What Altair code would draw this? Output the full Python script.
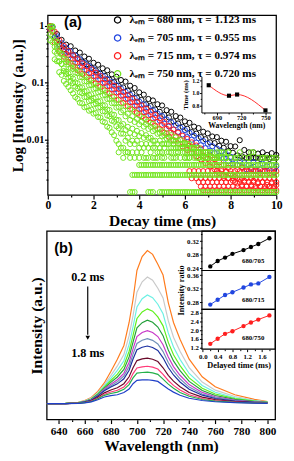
import altair as alt
import pandas as pd

W, H = 286, 453
SERIF = "Liberation Serif"
SANS = "Liberation Sans"

# ======================= (a) decay curves =======================
decay_time_a = [0.1, 0.3, 0.5, 0.7, 0.9, 1.1, 1.3, 1.5, 1.7, 1.9, 2.1, 2.3, 2.5, 2.7, 2.9,
                3.1, 3.3, 3.5, 3.7, 3.9, 4.1, 4.3, 4.5, 4.7, 4.9, 5.1, 5.3, 5.5, 5.7, 5.9,
                6.1, 6.3, 6.5, 6.7, 6.9, 7.1, 7.3, 7.5, 7.7, 7.9, 8.1, 8.3, 8.5, 8.7, 8.9,
                9.1, 9.3, 9.5, 9.7, 9.9]
decay_time_b = [0.2, 0.4, 0.6, 0.8, 1.0, 1.2, 1.4, 1.6, 1.8, 2.0, 2.2, 2.4, 2.6, 2.8, 3.0,
                3.2, 3.4, 3.6, 3.8, 4.0, 4.2, 4.4, 4.6, 4.8, 5.0, 5.2, 5.4, 5.6, 5.8, 6.0,
                6.2, 6.4, 6.6, 6.8, 7.0, 7.2, 7.4, 7.6, 7.8, 8.0, 8.2, 8.4, 8.6, 8.8, 9.0,
                9.2, 9.4, 9.6, 9.8, 10.0]

series_names = ["λₑₘ = 680 nm, τ = 1.123 ms", "λₑₘ = 705 nm, τ = 0.955 ms",
                "λₑₘ = 715 nm, τ = 0.974 ms", "λₑₘ = 750 nm, τ = 0.720 ms"]
series_colors = ["#000000", "#2146e0", "#ff1f1f", "#72e41e"]

black_upper = [0.97, 0.72, 0.57, 0.47, 0.44, 0.37, 0.34, 0.29, 0.265, 0.225, 0.208, 0.18, 0.166,
               0.141, 0.128, 0.112, 0.105, 0.089, 0.081, 0.068, 0.062, 0.052, 0.049, 0.042, 0.04,
               0.033, 0.031, 0.026, 0.0245, 0.021, 0.0198, 0.017, 0.016, 0.0138, 0.0129, 0.0114,
               0.0111, 0.0096, 0.0092, 0.0077, 0.0076, 0.0098, 0.0066, 0.006, 0.006, 0.0057,
               0.006, 0.0054, 0.0058, 0.0054]
black_lower = [0.98, 0.65, 0.48, 0.39, 0.35, 0.305, 0.272, 0.237, 0.212, 0.183, 0.166, 0.145,
               0.133, 0.114, 0.103, 0.089, 0.083, 0.073, 0.065, 0.055, 0.05, 0.042, 0.039, 0.034,
               0.031, 0.0272, 0.0246, 0.021, 0.0193, 0.0168, 0.0156, 0.0136, 0.0128, 0.0111,
               0.0102, 0.009, 0.0087, 0.0078, 0.0072, 0.0063, 0.0059, 0.0053, 0.0051, 0.0048,
               0.0048, 0.0048, 0.0046, 0.0048, 0.0046, 0.0048]
blue_upper = [0.93, 0.66, 0.5, 0.417, 0.355, 0.302, 0.26, 0.225, 0.198, 0.174, 0.151, 0.133, 0.117,
              0.103, 0.091, 0.08, 0.07, 0.062, 0.054, 0.047, 0.042, 0.037, 0.033, 0.029, 0.026,
              0.0227, 0.0202, 0.0181, 0.0163, 0.0148, 0.0132, 0.0118, 0.0106, 0.0095, 0.0085,
              0.0077, 0.007, 0.0063, 0.0056, 0.005, 0.0048, 0.0042, 0.0039, 0.0036, 0.004,
              0.0036, 0.0038, 0.0034, 0.0036, 0.0034]
blue_lower = [0.89, 0.617, 0.447, 0.363, 0.305, 0.26, 0.222, 0.19, 0.167, 0.147, 0.129, 0.114,
              0.1, 0.088, 0.077, 0.068, 0.06, 0.0525, 0.0457, 0.0398, 0.035, 0.031, 0.0275,
              0.0244, 0.0217, 0.0192, 0.0171, 0.0151, 0.0137, 0.0124, 0.0111, 0.01, 0.0089,
              0.008, 0.0071, 0.0064, 0.0058, 0.0052, 0.0047, 0.0042, 0.0038, 0.0036, 0.0033,
              0.003, 0.0032, 0.0029, 0.003, 0.0028, 0.0029, 0.0027]
red_upper = [1.0, 0.794, 0.562, 0.447, 0.363, 0.305, 0.26, 0.221, 0.195, 0.173, 0.151, 0.132,
             0.115, 0.101, 0.0887, 0.078, 0.0686, 0.0603, 0.0525, 0.0457, 0.04, 0.0352, 0.0309,
             0.0272, 0.0239, 0.0205, 0.0175, 0.0151, 0.0133, 0.0117, 0.0103, 0.009, 0.0079,
             0.007, 0.006, 0.0052, 0.0045, 0.004, 0.0036, 0.0032, 0.0036, 0.003, 0.0032, 0.0028,
             0.003, 0.0028, 0.0026, 0.0028, 0.0026, 0.0026]
red_middle = [0.794, 0.537, 0.407, 0.324, 0.269, 0.229, 0.195, 0.169, 0.149, 0.132, 0.115, 0.1,
              0.0875, 0.0769, 0.0676, 0.0594, 0.0522, 0.0457, 0.0398, 0.0347, 0.0305, 0.0268,
              0.0236, 0.0207, 0.0182, 0.0156, 0.0133, 0.0115, 0.0101, 0.0089, 0.0078, 0.0069,
              0.006, 0.0052, 0.0046, 0.0039, 0.0034, 0.003, 0.0027, 0.0025, 0.0022, 0.002,
              0.0019, 0.0018, 0.0019, 0.0017, 0.0018, 0.0016, 0.0017, 0.0016]
red_lower = [0.89, 0.513, 0.363, 0.288, 0.234, 0.197, 0.168, 0.143, 0.126, 0.111, 0.0977, 0.0851,
             0.0741, 0.0652, 0.0573, 0.0504, 0.0443, 0.0389, 0.0339, 0.0295, 0.0258, 0.0227,
             0.02, 0.0175, 0.0154, 0.0132, 0.0113, 0.0098, 0.0086, 0.0076, 0.0066, 0.0058,
             0.0051, 0.0045, 0.0039, 0.0034, 0.003, 0.0026, 0.0023, 0.0021, 0.0019, 0.0017,
             0.0016, 0.0015, 0.0016, 0.0014, 0.0015, 0.0014, 0.0015, 0.0014]
# green band, from its upper edge (row0) to its lower edge (row8)
green_row0 = [0.85, 0.447, 0.331, 0.26, 0.219, 0.186, 0.158, 0.135, 0.115, 0.1, 0.088, 0.0776,
              0.0676, 0.0575, 0.0501, 0.0437, 0.0389, 0.0347, 0.0309, 0.0269, 0.024, 0.0209,
              0.019, 0.0158, 0.0141, 0.0129, 0.012, 0.011, 0.01, 0.0089, 0.0084, 0.0072, 0.0072,
              0.006, 0.006, 0.006, 0.0048, 0.006, 0.0048, 0.0048, 0.0048, 0.006, 0.0048, 0.0048,
              0.006, 0.0048, 0.0048, 0.0048, 0.0048, 0.0048]
green_row1 = [0.97, 0.564, 0.346, 0.262, 0.21, 0.175, 0.147, 0.125, 0.106, 0.0916, 0.0799, 0.0703,
              0.0613, 0.0522, 0.0444, 0.0377, 0.0326, 0.0286, 0.0259, 0.0232, 0.0207, 0.0187,
              0.0168, 0.0149, 0.0131, 0.0119, 0.0108, 0.0096, 0.0096, 0.0084, 0.0084, 0.0072,
              0.0072, 0.006, 0.006, 0.006, 0.0048, 0.006, None, 0.006, None, 0.0048, None, None,
              0.006, None, None, 0.0048, None, 0.0048]
green_row2 = [0.99, 0.528, 0.314, 0.232, 0.184, 0.152, 0.126, 0.106, 0.0904, 0.0783, 0.0684, 0.06,
              0.0519, 0.0438, 0.0367, 0.0304, 0.0258, 0.0223, 0.0205, 0.0186, 0.017, 0.0155,
              0.0141, 0.0127, 0.0115, 0.0105, 0.0096, 0.0096, 0.0084, 0.0084, 0.0072, 0.0072,
              0.006, 0.006, 0.006, 0.0048, 0.006, 0.0048, 0.0048, None, 0.0048, None, None,
              0.0048, None, None, 0.0048, None, None, None]
green_row3 = [0.71, 0.354, 0.238, 0.179, 0.146, 0.119, 0.0986, 0.0832, 0.0714, 0.0627, 0.055,
              0.0475, 0.0403, 0.0334, 0.0274, 0.0221, 0.0188, 0.0168, 0.0156, 0.0143, 0.0131,
              0.012, 0.0108, 0.0096, 0.0096, 0.0084, 0.0084, 0.0084, 0.0072, 0.0072, 0.0072,
              0.006, 0.006, 0.006, 0.0048, 0.006, None, 0.0048, None, 0.006, None, None, None,
              None, None, None, None, None, None, None]
green_row4 = [0.668, 0.327, 0.214, 0.1575, 0.127, 0.102, 0.0841, 0.0708, 0.061, 0.0537, 0.047,
              0.0403, 0.0339, 0.0279, 0.0224, 0.0176, 0.0148, 0.0132, 0.0124, 0.0116, 0.0108,
              0.0108, 0.0096, 0.0084, 0.0084, 0.0084, 0.0072, 0.0072, 0.0072, 0.006, 0.006,
              0.006, 0.0048, 0.0048, 0.0048, None, 0.0048, None, 0.0048, None, None, None, None,
              None, None, None, None, None, None, None]
green_row5 = [0.975, 0.433, 0.237, 0.161, 0.124, 0.099, 0.0796, 0.0658, 0.056, 0.0489, 0.0429,
              0.0371, 0.0314, 0.0258, 0.0208, 0.0159, 0.0128, 0.0108, 0.0096, 0.0096, 0.0084,
              0.0084, 0.0084, 0.0072, 0.0072, 0.0072, 0.006, 0.0072, 0.006, 0.006, 0.006, 0.006,
              0.0048, 0.006, 0.0048, None, 0.0048, None, 0.006, None, None, None, None, None,
              None, None, None, None, None, None]
green_row6 = [0.966, 0.405, 0.215, 0.143, 0.108, 0.0859, 0.0682, 0.0561, 0.0478, 0.0418, 0.0367,
              0.0316, 0.0266, 0.0216, 0.0172, 0.0128, 0.0096, 0.0084, 0.0084, 0.0072, 0.0072,
              0.0072, 0.0072, 0.006, 0.006, 0.006, 0.006, 0.006, 0.0048, 0.0048, 0.0048, 0.0048,
              0.0048, 0.0048, 0.0048, 0.0048, 0.0048, 0.0048, 0.0048, None, None, None, None,
              None, None, None, None, None, None, None]
green_row7 = [0.557, 0.259, 0.154, 0.108, 0.0849, 0.0653, 0.0524, 0.0437, 0.0379, 0.0337, 0.0294,
              0.0246, 0.0202, 0.0162, 0.012, 0.0084, 0.0072, 0.006, 0.006, 0.006, 0.006, 0.0048,
              0.006, 0.0048, 0.006, 0.0048, None, 0.0048, 0.006, None, 0.0048, None, 0.006, None,
              0.0048, None, None, None, None, None, None, None, None, None, None, None, None,
              None, None, None]
green_row8 = [0.52, 0.24, 0.138, 0.0955, 0.0741, 0.0562, 0.0447, 0.0372, 0.0324, 0.0288, 0.0251,
              0.0209, 0.017, 0.0135, 0.0096, 0.0072, 0.006, 0.0048, 0.0048, 0.0048, 0.0048,
              0.0048, 0.0048, 0.0048, 0.0048, None, 0.0048, 0.0048, None, 0.0048, 0.0048, None,
              0.0048, None, 0.0048, None, 0.0048, None, None, None, None, None, None, None, None,
              None, None, None, None, None]

# discrete photon-count levels in the tails: level and first time it appears
black_floor_level, black_floor_start = [0.0048], [7.7]
red_floor_level = [0.0013, 0.0015, 0.0018, 0.0021, 0.0028]
red_floor_start = [6.8, 6.6, 6.5, 6.3, 6.1]
green_floor_level = [0.0036, 0.0024, 0.0012]
green_floor_start = [4.0, 3.7, 4.9]
green_extra_time = [3.6, 3.7, 3.8, 4.4, 4.5, 4.6, 3.1, 3.3, 3.5]
green_extra_value = [0.0012, 0.0012, 0.0012, 0.0012, 0.0012, 0.0012, 0.006, 0.0048, 0.006]

recs = []


def add_row(si, times, vals):
    for t, v in zip(times, vals):
        if v is not None:
            recs.append({"t": t, "I": v, "series": series_names[si]})


def add_floor(si, level, start, grids):
    for times in grids:
        for t in times:
            if t >= start - 1e-9:
                recs.append({"t": t, "I": level, "series": series_names[si]})


add_row(0, decay_time_b, black_upper)
add_row(0, decay_time_a, black_lower)
for lv, st in zip(black_floor_level, black_floor_start):
    add_floor(0, lv, st, [decay_time_b])
add_row(1, decay_time_b, blue_upper)
add_row(1, decay_time_a, blue_lower)
add_row(2, decay_time_a, red_upper)
add_row(2, decay_time_b, red_middle)
add_row(2, decay_time_a, red_lower)
for k, (lv, st) in enumerate(zip(red_floor_level, red_floor_start)):
    add_floor(2, lv, st, [decay_time_a if k % 2 else decay_time_b])
green_rows = [green_row0, green_row1, green_row2, green_row3, green_row4,
              green_row5, green_row6, green_row7, green_row8]
for k, row in enumerate(green_rows):
    add_row(3, decay_time_b if k % 2 == 0 else decay_time_a, row)
for lv, st in zip(green_floor_level, green_floor_start):
    add_floor(3, lv, st, [decay_time_a, decay_time_b])
add_row(3, green_extra_time, green_extra_value)
decay_df = pd.DataFrame(recs)

# inset of (a)
inset_wavelength = [680, 705, 715, 750]
inset_lifetime = [1.123, 0.955, 0.974, 0.720]

# ======================= (b) spectra =======================
wavelength = [631, 645, 655, 660, 665, 670, 675, 680, 685, 690, 694, 697, 700, 704, 708, 712,
              716, 720, 724, 728, 733, 740, 750, 760, 775, 790, 800]
spectra = {
    "c00": [0, 0.001, 0.008, 0.02, 0.04, 0.08, 0.135, 0.21, 0.29, 0.38, 0.53, 0.68, 0.87, 0.96, 1.0, 0.975, 0.91, 0.84, 0.66, 0.53, 0.42, 0.29, 0.175, 0.11, 0.058, 0.028, 0.014],
    "c01": [0, 0.001, 0.007, 0.017, 0.036, 0.072, 0.122, 0.183, 0.246, 0.32, 0.444, 0.574, 0.728, 0.796, 0.827, 0.806, 0.754, 0.69, 0.542, 0.434, 0.342, 0.235, 0.141, 0.088, 0.046, 0.022, 0.012],
    "c02": [0, 0.001, 0.006, 0.016, 0.032, 0.067, 0.114, 0.165, 0.217, 0.28, 0.387, 0.502, 0.631, 0.685, 0.71, 0.692, 0.649, 0.587, 0.462, 0.37, 0.289, 0.197, 0.118, 0.074, 0.038, 0.018, 0.01],
    "c03": [0, 0.001, 0.006, 0.014, 0.03, 0.063, 0.107, 0.151, 0.193, 0.249, 0.342, 0.446, 0.556, 0.599, 0.619, 0.604, 0.566, 0.508, 0.4, 0.319, 0.248, 0.168, 0.1, 0.063, 0.033, 0.016, 0.009],
    "c04": [0, 0, 0.005, 0.013, 0.028, 0.059, 0.101, 0.139, 0.174, 0.223, 0.305, 0.401, 0.495, 0.529, 0.545, 0.531, 0.5, 0.444, 0.35, 0.279, 0.215, 0.145, 0.086, 0.053, 0.028, 0.014, 0.008],
    "c05": [0, 0, 0.005, 0.012, 0.026, 0.055, 0.095, 0.127, 0.156, 0.198, 0.27, 0.357, 0.438, 0.465, 0.477, 0.465, 0.438, 0.385, 0.304, 0.242, 0.185, 0.124, 0.073, 0.045, 0.023, 0.011, 0.007],
    "c06": [0, 0, 0.005, 0.011, 0.024, 0.053, 0.089, 0.117, 0.142, 0.18, 0.243, 0.323, 0.393, 0.414, 0.424, 0.413, 0.39, 0.34, 0.268, 0.213, 0.162, 0.108, 0.063, 0.039, 0.02, 0.01, 0.006],
    "c07": [0, 0, 0.004, 0.011, 0.022, 0.049, 0.084, 0.108, 0.129, 0.162, 0.218, 0.291, 0.352, 0.368, 0.376, 0.367, 0.347, 0.299, 0.236, 0.187, 0.141, 0.094, 0.055, 0.033, 0.017, 0.008, 0.005],
    "c08": [0, 0, 0.003, 0.009, 0.018, 0.041, 0.07, 0.089, 0.104, 0.13, 0.175, 0.234, 0.281, 0.292, 0.297, 0.29, 0.275, 0.234, 0.185, 0.147, 0.11, 0.072, 0.042, 0.026, 0.013, 0.006, 0.004],
    "c09": [0, 0, 0.003, 0.007, 0.016, 0.035, 0.061, 0.076, 0.087, 0.109, 0.145, 0.196, 0.233, 0.24, 0.244, 0.238, 0.226, 0.191, 0.151, 0.119, 0.089, 0.058, 0.033, 0.02, 0.01, 0.005, 0.003],
    "c10": [0, 0, 0.003, 0.006, 0.014, 0.032, 0.054, 0.066, 0.075, 0.093, 0.124, 0.168, 0.199, 0.203, 0.206, 0.201, 0.191, 0.16, 0.127, 0.1, 0.073, 0.048, 0.027, 0.016, 0.008, 0.004, 0.003],
    "c11": [0, 0, 0.002, 0.005, 0.011, 0.025, 0.043, 0.052, 0.058, 0.072, 0.095, 0.13, 0.152, 0.155, 0.156, 0.152, 0.145, 0.12, 0.095, 0.075, 0.055, 0.035, 0.02, 0.012, 0.006, 0.003, 0.002],
}
spectra_colors = ["#ff7b1c", "#c9c9c9", "#6cf0e4", "#5ef01a", "#23a03a", "#c838c8",
                  "#7090b8", "#1a2fa0", "#6a0a2a", "#ff3a78", "#25b04a", "#1f3fc8"]

# inset of (b)
delay_time = [0.2, 0.4, 0.6, 0.8, 1.1, 1.3, 1.5, 1.8]
ratio_680_705 = [0.246, 0.262, 0.272, 0.283, 0.294, 0.303, 0.312, 0.329]
ratio_680_715 = [0.274, 0.288, 0.302, 0.310, 0.324, 0.333, 0.336, 0.355]
ratio_680_750 = [1.378, 1.613, 1.836, 1.956, 2.190, 2.356, 2.489, 2.680]

# ======================= helpers =======================
AX = dict(labelFont=SERIF, labelFontWeight="bold", titleFont=SERIF, titleFontWeight="bold",
          labelColor="black", titleColor="black", tickColor="black", domainColor="black",
          grid=False, labelFlush=False, labelOverlap=False)


def frame(x0, x1, y0, y1, sx, sy, ax, ay, sw=1.3):
    df = pd.DataFrame({"x0": [x0], "x1": [x1], "y0": [y0], "y1": [y1]})
    return alt.Chart(df).mark_rect(fillOpacity=0, stroke="black", strokeWidth=sw).encode(
        x=alt.X("x0:Q", scale=sx, axis=ax), x2="x1:Q",
        y=alt.Y("y0:Q", scale=sy, axis=ay), y2="y1:Q")


def texts(df, sx, sy, ax, ay, **mk):
    return alt.Chart(df).mark_text(**mk).encode(
        x=alt.X("x:Q", scale=sx, axis=ax), y=alt.Y("y:Q", scale=sy, axis=ay), text="text:N")


# ======================= panel (a) =======================
sx_a = alt.Scale(domain=[0, 10], range=[41, 276], nice=False, zero=False)
sy_a = alt.Scale(type="log", domain=[0.00106, 1.54], range=[186, 1], nice=False)
ax_a_x = alt.Axis(orient="bottom", offset=186 - H, values=list(range(11)),
                  labelExpr="datum.value % 2 == 0 ? datum.label : ''",
                  tickSize={"condition": {"test": "datum.value % 2 == 0", "value": 4}, "value": 2},
                  tickWidth=1.2, labelFontSize=12, labelPadding=1, domain=False,
                  title="Decay time (ms)", titleFontSize=16, titlePadding=2, **AX)
log_ticks = [0.002, 0.003, 0.004, 0.005, 0.006, 0.007, 0.008, 0.009, 0.01, 0.02, 0.03, 0.04,
             0.05, 0.06, 0.07, 0.08, 0.09, 0.1, 0.2, 0.3, 0.4, 0.5, 0.6, 0.7, 0.8, 0.9, 1]
major_test = "datum.value == 1 || datum.value == 0.1 || datum.value == 0.01"
ax_a_y = alt.Axis(orient="left", offset=-41, values=log_ticks, format="~g",
                  labelExpr="(" + major_test + ") ? datum.label : ''",
                  tickSize={"condition": {"test": major_test, "value": 3.5}, "value": 2},
                  tickWidth=1.2, labelFontSize=10.5, labelPadding=0.5, domain=False,
                  title="Log [Intensity (a.u.)]", titleFontSize=15.5, titlePadding=1, **AX)

frame_a = frame(0, 10, 0.00106, 1.54, sx_a, sy_a, ax_a_x, ax_a_y)
scatter_a = alt.Chart(decay_df).mark_point(shape="circle", filled=False, size=28,
                                             strokeWidth=1, opacity=1).encode(
    x=alt.X("t:Q", scale=sx_a, axis=ax_a_x),
    y=alt.Y("I:Q", scale=sy_a, axis=ax_a_y),
    color=alt.Color("series:N", scale=alt.Scale(domain=series_names, range=series_colors),
                    legend=alt.Legend(title=None, orient="none", legendX=107, legendY=0,
                                      padding=0, labelFont=SERIF, labelFontWeight="bold",
                                      labelFontSize=11.5, labelColor="black", symbolSize=42,
                                      symbolStrokeWidth=1.3, symbolType="circle",
                                      rowPadding=5.5, labelOffset=6.5, labelLimit=230)))
label_a = texts(pd.DataFrame({"x": [1.1], "y": [1.17], "text": ["(a)"]}), sx_a, sy_a,
                ax_a_x, ax_a_y, font=SANS, fontWeight="bold", fontSize=15, color="black")
panel_a = alt.layer(frame_a, scatter_a, label_a)

# inset of (a)
sx_ia = alt.Scale(domain=[671, 757], range=[199, 270.7], nice=False, zero=False)
sy_ia = alt.Scale(domain=[0.686, 1.262], range=[101, 64], nice=False, zero=False)
ax_ia_x = alt.Axis(orient="bottom", offset=101 - H, values=[675, 690, 705, 720, 735, 750],
                   labelExpr="datum.value % 30 == 0 ? datum.label : ''",
                   tickSize={"condition": {"test": "datum.value % 30 == 0", "value": 2.5}, "value": 1.5},
                   labelFontSize=6.5, labelPadding=0, domainWidth=1, zindex=1,
                   title="Wavelength (nm)", titleFontSize=8, titlePadding=0, **AX)
ax_ia_y = alt.Axis(orient="left", offset=-199, values=[0.8, 0.9, 1.0, 1.1, 1.2], format=".1f",
                   labelExpr="round(datum.value * 10) % 2 == 0 ? datum.label : ''",
                   tickSize={"condition": {"test": "round(datum.value * 10) % 2 == 0", "value": 2}, "value": 1.2},
                   labelFontSize=6, labelPadding=0.5, domainWidth=1, zindex=1,
                   title="Time (ms)", titleFontSize=7, titlePadding=3.5, **AX)
inset_a_df = pd.DataFrame({"wl": inset_wavelength, "tau": inset_lifetime})
inset_a_line = alt.Chart(inset_a_df).mark_line(interpolate="monotone", color="#ff2a2a",
                                                 strokeWidth=1).encode(
    x=alt.X("wl:Q", scale=sx_ia, axis=ax_ia_x), y=alt.Y("tau:Q", scale=sy_ia, axis=ax_ia_y))
inset_a_pts = alt.Chart(inset_a_df).mark_square(size=18, color="black", opacity=1).encode(
    x=alt.X("wl:Q", scale=sx_ia, axis=ax_ia_x), y=alt.Y("tau:Q", scale=sy_ia, axis=ax_ia_y))
inset_a = alt.layer(inset_a_line, inset_a_pts)

# ======================= panel (b) =======================
sx_b = alt.Scale(domain=[631, 806], range=[40, 275], nice=False, zero=False)
sy_b = alt.Scale(domain=[-0.105, 1.127], range=[417, 223], nice=False, zero=False)
ax_b_x = alt.Axis(orient="bottom", offset=417 - H, values=list(range(640, 801, 10)),
                  labelExpr="datum.value % 20 == 0 ? datum.label : ''",
                  tickSize={"condition": {"test": "datum.value % 20 == 0", "value": 4}, "value": 2},
                  tickWidth=1.2, labelFontSize=11.5, labelPadding=2, domain=False,
                  title="Wavelength (nm)", titleFontSize=16, titlePadding=1, **AX)
ax_b_y = alt.Axis(orient="left", offset=-40, labels=False, ticks=False, domain=False,
                  title="Intensity (a.u.)", titleFontSize=16, titlePadding=3, **AX)

spec_recs = []
for name, vals in spectra.items():
    for w, v in zip(wavelength, vals):
        spec_recs.append({"wl": w, "h": v, "curve": name})
spec_df = pd.DataFrame(spec_recs)

frame_b = frame(631, 806, -0.105, 1.127, sx_b, sy_b, ax_b_x, ax_b_y)
lines_b = alt.Chart(spec_df).mark_line(strokeWidth=1.2).encode(
    x=alt.X("wl:Q", scale=sx_b, axis=ax_b_x), y=alt.Y("h:Q", scale=sy_b, axis=ax_b_y),
    color=alt.Color("curve:N", scale=alt.Scale(domain=list(spectra.keys()), range=spectra_colors),
                    legend=None))
arrow_df = pd.DataFrame({"x": [662.3], "y0": [0.765], "y1": [0.45]})
arrow_shaft = alt.Chart(arrow_df).mark_rule(color="black", strokeWidth=1.2).encode(
    x=alt.X("x:Q", scale=sx_b, axis=ax_b_x), y=alt.Y("y0:Q", scale=sy_b, axis=ax_b_y), y2="y1:Q")
arrow_head = alt.Chart(pd.DataFrame({"x": [662.3], "y": [0.43]})).mark_point(
    shape="triangle-down", filled=True, size=22, color="black", opacity=1).encode(
    x=alt.X("x:Q", scale=sx_b, axis=ax_b_x), y=alt.Y("y:Q", scale=sy_b, axis=ax_b_y))
ms_text = texts(pd.DataFrame({"x": [662.3, 662.3], "y": [0.829, 0.327], "text": ["0.2 ms", "1.8 ms"]}),
                sx_b, sy_b, ax_b_x, ax_b_y, font=SERIF, fontWeight="bold", fontSize=12.5,
                color="black")
label_b = texts(pd.DataFrame({"x": [643.7], "y": [1.013], "text": ["(b)"]}), sx_b, sy_b,
                ax_b_x, ax_b_y, font=SANS, fontWeight="bold", fontSize=15, color="black")
panel_b = alt.layer(frame_b, lines_b, arrow_shaft, arrow_head, ms_text, label_b)

# inset of (b): three stacked panels
sx_ib = alt.Scale(domain=[-0.026, 1.96], range=[199.5, 275], nice=False, zero=False)
ax_ib_x = alt.Axis(orient="bottom", offset=344.5 - H, values=[0, 0.2, 0.4, 0.6, 0.8, 1.0, 1.2, 1.4, 1.6, 1.8],
                   format=".1f", labelExpr="round(datum.value * 10) % 4 == 0 ? datum.label : ''",
                   tickSize={"condition": {"test": "round(datum.value * 10) % 4 == 0", "value": 2.5}, "value": 1.5},
                   labelFontSize=7, labelPadding=1, domain=False,
                   title="Delayed time (ms)", titleFontSize=8.5, titlePadding=1, **AX)


def ratio_panel(vals, color, dom, rng, ticks, fmt, test, lab, lab_y, title=None, xaxis=None):
    sy = alt.Scale(domain=dom, range=rng, nice=False, zero=False)
    ay_kw = dict(orient="left", offset=-199.5, values=ticks, format=fmt,
                 labelExpr="(" + test + ") ? datum.label : ''",
                 tickSize={"condition": {"test": test, "value": 2.5}, "value": 1.5},
                 labelFontSize=7, labelPadding=1, domain=False, **AX)
    if title:
        ay = alt.Axis(title=title, titleFontSize=8.5, titlePadding=1, **ay_kw)
    else:
        ay = alt.Axis(title=None, **ay_kw)
    df = pd.DataFrame({"t": delay_time, "r": vals})
    if xaxis is None:
        xenc = lambda f: alt.X(f, type="quantitative", scale=sx_ib, axis=None)
    else:
        xenc = lambda f: alt.X(f, type="quantitative", scale=sx_ib, axis=xaxis)
    fr = alt.Chart(pd.DataFrame({"x0": [-0.026], "x1": [1.96], "y0": [dom[0]], "y1": [dom[1]]})).mark_rect(
        fillOpacity=0, stroke="black", strokeWidth=1.2).encode(
        x=xenc("x0"), x2="x1:Q", y=alt.Y("y0:Q", scale=sy, axis=ay), y2="y1:Q")
    ln = alt.Chart(df).mark_line(color=color, strokeWidth=1).encode(
        x=xenc("t"), y=alt.Y("r:Q", scale=sy, axis=ay))
    pt = alt.Chart(df).mark_circle(color=color, size=20, opacity=1).encode(
        x=xenc("t"), y=alt.Y("r:Q", scale=sy, axis=ay))
    tx = alt.Chart(pd.DataFrame({"x": [1.36], "y": [lab_y], "text": [lab]})).mark_text(
        font=SERIF, fontWeight="bold", fontSize=7, color="black").encode(
        x=xenc("x"), y=alt.Y("y:Q", scale=sy, axis=ay), text="text:N")
    return alt.layer(fr, ln, pt, tx)


ib1 = ratio_panel(ratio_680_705, "black", [0.234, 0.35], [263.5, 223],
                  [0.24, 0.26, 0.28, 0.30, 0.32, 0.34], ".2f",
                  "round(datum.value * 100) % 4 == 0", "680/705", 0.261)
ib2 = ratio_panel(ratio_680_715, "#2146e0", [0.26, 0.374], [303.5, 263.5],
                  [0.28, 0.30, 0.32, 0.34, 0.36], ".2f",
                  "round(datum.value * 100) % 4 == 0", "680/715", 0.287, title="Intensity ratio")
ib3 = ratio_panel(ratio_680_750, "#ff1f1f", [1.133, 2.956], [344.5, 303.5],
                  [1.2, 1.4, 1.6, 1.8, 2.0, 2.2, 2.4, 2.6, 2.8], ".1f",
                  "round(datum.value * 10) % 4 == 0", "680/750", 1.644, xaxis=ax_ib_x)

chart = alt.layer(panel_a, inset_a, panel_b, ib1, ib2, ib3).resolve_scale(
    x="independent", y="independent", color="independent"
).properties(
    width=W, height=H, autosize=alt.AutoSizeParams(type="none"), padding=0
).configure_view(stroke=None)

chart.save("out.html", embed_options={"renderer": "svg", "actions": False})
